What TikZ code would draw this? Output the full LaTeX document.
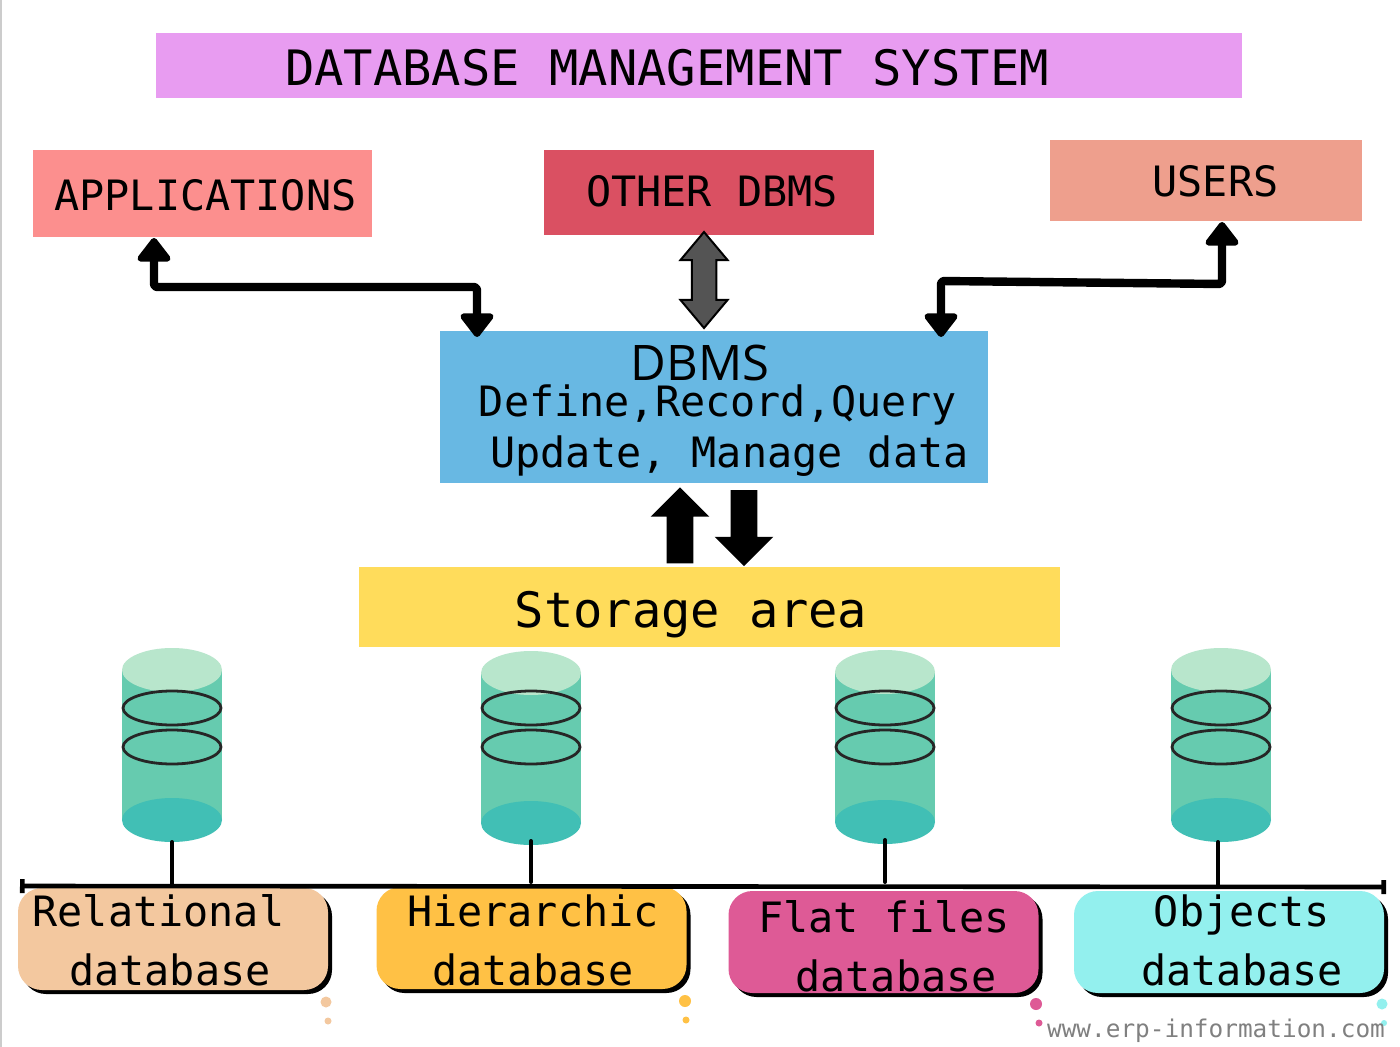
\documentclass[tikz,border=0pt]{standalone}
\usepackage{fontspec}
\setmainfont{DejaVu Sans Mono}
\newfontfamily\headfont{Open Sans}
\usepackage{tikz}
\usetikzlibrary{arrows.meta,shapes.geometric,shapes.arrows,shadows}

\definecolor{titlecol}{HTML}{E89CF1}
\definecolor{appscol}{HTML}{FC8F8E}
\definecolor{othercol}{HTML}{DA5062}
\definecolor{userscol}{HTML}{EE9F8D}
\definecolor{dbmscol}{HTML}{68B8E3}
\definecolor{storecol}{HTML}{FFDC5B}
\definecolor{relcol}{HTML}{F3C89F}
\definecolor{hiercol}{HTML}{FFC145}
\definecolor{flatcol}{HTML}{DE5A96}
\definecolor{objcol}{HTML}{93F0EE}
\definecolor{cyltop}{HTML}{B8E6CC}
\definecolor{cylbody}{HTML}{66CBAF}
\definecolor{cylbot}{HTML}{41BFB5}

\tikzset{
	box/.style={shape=rectangle,inner sep=0pt,outer sep=0pt},
	dbbox/.style={box,rounded corners=12pt,minimum width=155pt,minimum height=51pt,
		drop shadow={shadow xshift=2pt,shadow yshift=-2pt,fill=black,opacity=1}},
	txt/.style={anchor=base,inner sep=0pt,text=black,font=\fontsize{20.9}{25}\selectfont},
	bigtxt/.style={txt,font=\fontsize{24.4}{29}\selectfont},
	elbow/.style={line width=4.2pt,line join=round,rounded corners=1.5pt,
		{Triangle[width=19pt,length=13pt,round]}-{Triangle[width=19pt,length=13pt,round]}},
	disc/.style={shape=ellipse,inner sep=0pt,outer sep=0pt,minimum width=50pt,minimum height=22pt},
	ring/.style={disc,draw=black!85,line width=1.4pt,minimum width=49pt,minimum height=17pt},
	blockarrow/.style={shape=single arrow,fill=black,inner sep=0pt,outer sep=0pt,
		minimum width=29pt,minimum height=38pt,single arrow head extend=8pt},
	tap/.style={line width=2pt,line cap=round},
	dot/.style={shape=circle,inner sep=0pt,outer sep=0pt}
}

\begin{document}
\begin{tikzpicture}[x=0.5pt,y=-0.5pt]
	\useasboundingbox (0,0) rectangle (1400,1047);
	\fill[white] (0,0) rectangle (1400,1047);
	\coordinate (edgea) at (1,0);
	\coordinate (edgeb) at (1,1047);
	\draw[black!20,line width=1pt] (edgea) -- (edgeb);

	% top row
	\node[box,fill=titlecol,minimum width=543pt,minimum height=32.5pt] (title) at (699,65.5) {};
	\node[box,fill=appscol,minimum width=169.5pt,minimum height=43.5pt] (apps) at (202.5,193.5) {};
	\node[box,fill=othercol,minimum width=165pt,minimum height=42.5pt] (other) at (709,192.5) {};
	\node[box,fill=userscol,minimum width=156pt,minimum height=40.5pt] (users) at (1206,180.5) {};
	\node[box,fill=dbmscol,minimum width=274pt,minimum height=76pt] (dbms) at (714,407) {};
	\node[box,fill=storecol,minimum width=350.5pt,minimum height=40pt] (store) at (709,607) {};
	\node[bigtxt] (titletxt) at (667,86) {DATABASE MANAGEMENT SYSTEM};
	\node[txt] (appstxt) at (205.5,211) {APPLICATIONS};
	\node[txt] (othertxt) at (712,207) {OTHER DBMS};
	\node[txt] (userstxt) at (1215.5,197) {USERS};
	\node[txt,font=\headfont\fontsize{24.5}{30}\selectfont] (dbmstxt) at (700,380) {DBMS};
	\node[txt] (definetxt) at (718,416) {Define,Record,Query};
	\node[txt] (updatetxt) at (729.5,467) {Update, Manage data};
	\node[bigtxt] (storetxt) at (691,627) {Storage area};

	% arrows
	\coordinate (appsport) at (154,238);
	\coordinate (dbmsleft) at (477,337);
	\coordinate (dbmsright) at (941,337);
	\coordinate (usersport) at (1222,222);
	\coordinate (rightbenda) at (941,281);
	\coordinate (rightbendb) at (1222,284);
	\draw[elbow] (appsport) -- ++(0,49) -| (dbmsleft);
	\draw[elbow] (dbmsright) -- (rightbenda) -- (rightbendb) -- (usersport);
	\node[shape=double arrow,draw=black,line width=1pt,fill=black!67,shape border rotate=90,inner sep=0pt,
		minimum width=23.5pt,minimum height=48pt,double arrow head extend=5.5pt,double arrow tip angle=80] (otherlink) at (704,280) {\phantom{\rule{11pt}{11pt}}};
	\node[blockarrow,shape border rotate=90] (uplink) at (680,532) {\phantom{\rule{13pt}{13pt}}};
	\node[blockarrow,shape border rotate=270] (downlink) at (744,521.5) {\phantom{\rule{13pt}{13pt}}};

	% cylinders
	\foreach \n/\x/\y in {a/172/670,b/531/673,c/885/672,d/1221/670}{
		\node[box,fill=cylbody,minimum width=50pt,minimum height=75pt] (body\n) at (\x,\y+75) {};
		\node[disc,fill=cylbot] (bot\n) at (\x,\y+150) {};
		\node[disc,fill=cyltop] (top\n) at (\x,\y) {};
		\node[ring] (ringa\n) at (\x,708) {};
		\node[ring] (ringb\n) at (\x,747) {};
	}

	% bus
	\coordinate (busl) at (20,886);
	\coordinate (busr) at (1386,887);
	\coordinate (tapa) at (172,888);
	\coordinate (tapb) at (531,882);
	\coordinate (tapc) at (885,882);
	\coordinate (tapd) at (1218,887);
	\path[tap] (bota.south) edge (tapa);
	\path[tap] ([yshift=2pt]botb.south) edge (tapb);
	\path[tap] ([yshift=2pt]botc.south) edge (tapc);
	\path[tap] ([xshift=-1.5pt]botd.south) edge (tapd);

	% boxes
	\node[dbbox,fill=relcol] (rel) at (173,939) {};
	\node[dbbox,fill=hiercol] (hier) at (531.5,938) {};
	\node[dbbox,fill=flatcol] (flat) at (883.5,942) {};
	\node[dbbox,fill=objcol] (obj) at (1229,942) {};
	\draw[line width=2.3pt,{Bar[width=7pt,length=1pt]}-{Bar[width=7pt,length=1pt]}] (busl) -- (busr);
	\node[txt] (reltxt) at (158.5,926) {Relational};
	\node[txt] (relsub) at (170,985) {database};
	\node[txt] (hiertxt) at (533,926) {Hierarchic};
	\node[txt] (hiersub) at (533,985) {database};
	\node[txt] (flattxt) at (884,932) {Flat files};
	\node[txt] (flatsub) at (896,991) {database};
	\node[txt] (objtxt) at (1242,926) {Objects};
	\node[txt] (objsub) at (1242,985) {database};

	% dots
	\node[dot,fill=relcol,minimum size=5.5pt] (rela) at (326,1002) {};
	\node[dot,fill=relcol,minimum size=3.5pt] (relb) at (328,1021) {};
	\node[dot,fill=hiercol,minimum size=6pt] (hiera) at (685,1001) {};
	\node[dot,fill=hiercol,minimum size=3.5pt] (hierb) at (686,1020) {};
	\node[dot,fill=flatcol,minimum size=6pt] (flata) at (1036,1004) {};
	\node[dot,fill=flatcol,minimum size=3.5pt] (flatb) at (1039,1023) {};
	\node[dot,fill=objcol,minimum size=5.5pt] (obja) at (1382,1004) {};
	\node[dot,fill=objcol,minimum size=3pt] (objb) at (1384,1023) {};
	\node[txt,text=black!50,font=\fontsize{12.2}{14}\selectfont] (url) at (1216,1037) {www.erp-information.com};
\end{tikzpicture}
\end{document}
